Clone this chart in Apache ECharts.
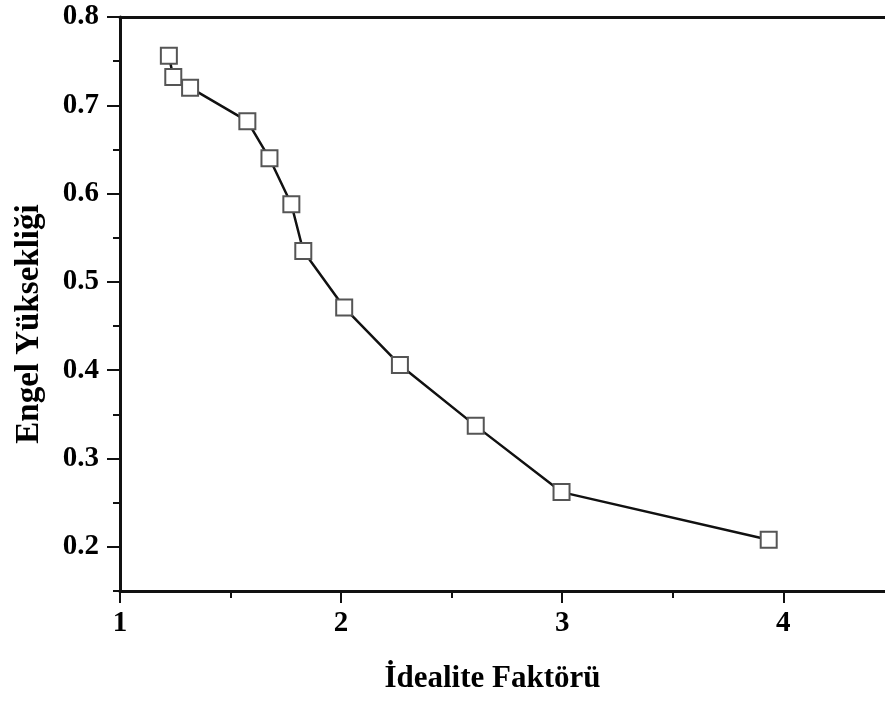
<!DOCTYPE html>
<html>
<head>
<meta charset="utf-8">
<script src="https://cdn.jsdelivr.net/npm/echarts@6/dist/echarts.min.js"></script>
<style>
  html, body { margin: 0; padding: 0; background: #fff; }
  #chart { width: 885px; height: 702px; }
</style>
</head>
<body>
<div id="chart"></div>
<script>
// İdealite faktörü - engel yüksekliği verisi
const idealiteFaktoru = [1.221, 1.241, 1.317, 1.576, 1.676, 1.775, 1.829, 2.014, 2.266, 2.609, 2.997, 3.934];
const engelYuksekligi = [0.756, 0.732, 0.720, 0.682, 0.640, 0.588, 0.535, 0.471, 0.406, 0.337, 0.262, 0.208];

const xMajorTicks = [1, 2, 3, 4];
const xMinorTicks = [1.5, 2.5, 3.5];
const yMajorTicks = [0.2, 0.3, 0.4, 0.5, 0.6, 0.7, 0.8];
const yMinorTicks = [0.15, 0.25, 0.35, 0.45, 0.55, 0.65, 0.75];

const FONT = '"Liberation Serif", "Times New Roman", serif';
const X_MIN = 1, X_MAX = 4.46;
const points = idealiteFaktoru.map((x, i) => [x, engelYuksekligi[i]]);

const chart = echarts.init(document.getElementById('chart'));

const axisLineStyle = { color: '#111', width: 3 };
const tickLineStyle = { color: '#111', width: 2 };

chart.setOption({
  animation: false,
  backgroundColor: '#fff',
  grid: { left: 120, top: 17, bottom: 111, right: 0 },
  xAxis: [
    {
      type: 'value',
      position: 'bottom',
      min: X_MIN,
      max: X_MAX,
      name: 'İdealite Faktörü',
      nameLocation: 'middle',
      nameGap: 72,
      nameTextStyle: { fontFamily: FONT, fontWeight: 'bold', fontSize: 31, color: '#000', padding: [0, 20, 0, 0] },
      axisLine: { show: true, lineStyle: axisLineStyle },
      axisTick: { show: true, length: 12, lineStyle: tickLineStyle, customValues: xMajorTicks },
      axisLabel: { fontFamily: FONT, fontWeight: 'bold', fontSize: 29, color: '#000', margin: 18, customValues: xMajorTicks },
      splitLine: { show: false }
    },
    {
      type: 'value',
      position: 'bottom',
      min: X_MIN,
      max: X_MAX,
      axisLine: { show: false },
      axisTick: { show: true, length: 7, lineStyle: tickLineStyle, customValues: xMinorTicks },
      axisLabel: { show: false },
      splitLine: { show: false }
    },
    {
      type: 'value',
      position: 'top',
      min: X_MIN,
      max: X_MAX,
      axisLine: { show: true, lineStyle: axisLineStyle },
      axisTick: { show: false },
      axisLabel: { show: false },
      splitLine: { show: false }
    }
  ],
  yAxis: [
    {
      type: 'value',
      position: 'left',
      min: 0.15,
      max: 0.8,
      name: 'Engel Yüksekliği',
      nameLocation: 'middle',
      nameGap: 74,
      nameTextStyle: { fontFamily: FONT, fontWeight: 'bold', fontSize: 33, color: '#000', padding: [0, 40, 0, 0] },
      axisLine: { show: true, lineStyle: axisLineStyle },
      axisTick: { show: true, length: 13, lineStyle: tickLineStyle, customValues: yMajorTicks },
      axisLabel: {
        fontFamily: FONT, fontWeight: 'bold', fontSize: 29, color: '#000', margin: 21,
        customValues: yMajorTicks,
        formatter: v => v.toFixed(1)
      },
      splitLine: { show: false }
    },
    {
      type: 'value',
      position: 'left',
      min: 0.15,
      max: 0.8,
      axisLine: { show: false },
      axisTick: { show: true, length: 7, lineStyle: tickLineStyle, customValues: yMinorTicks },
      axisLabel: { show: false },
      splitLine: { show: false }
    }
  ],
  series: [
    {
      type: 'line',
      xAxisIndex: 0,
      yAxisIndex: 0,
      data: points,
      symbol: 'rect',
      symbolSize: 16,
      showAllSymbol: true,
      itemStyle: { color: '#fff', borderColor: '#555', borderWidth: 2 },
      lineStyle: { color: '#111', width: 2.5 },
      emphasis: { disabled: true }
    }
  ]
});
</script>
</body>
</html>
